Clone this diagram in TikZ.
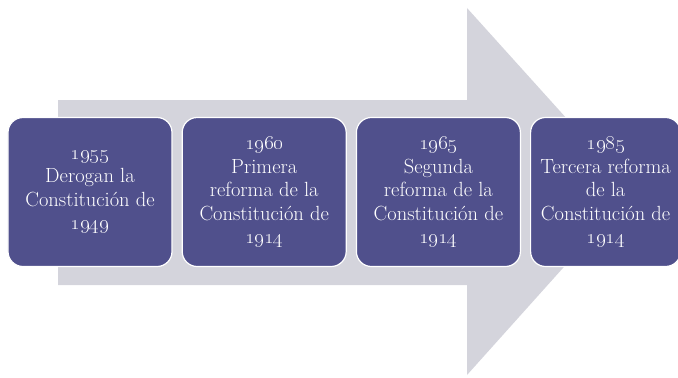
\documentclass[tikz,border=0pt]{standalone}
\usepackage{xcolor}
\usepackage{tikz}
\usetikzlibrary{positioning}
\definecolor{arrowgray}{HTML}{D4D4DC}
\definecolor{boxblue}{HTML}{50508C}

\begin{document}
\begin{tikzpicture}[x=1bp, y=1bp,
    yearbox/.style={rectangle, draw=white, line width=1.2bp, fill=boxblue, text=white,
                    rounded corners=15bp, minimum width=164bp, minimum height=149bp,
                    align=center, inner sep=0pt,
                    font=\fontsize{20.5bp}{23.5bp}\selectfont},
    node distance=9bp,
]
\useasboundingbox (0,0) rectangle (678,377);

% big arrow behind the boxes
\fill[arrowgray] (58,92) -- (58,277) -- (467,277) -- (467,369) -- (632,186)
                 -- (467,2) -- (467,92) -- cycle;

\node[yearbox] (y1955) at (90,185) {\oldstylenums{1955}\\Derogan la\\Constitución de\\\oldstylenums{1949}};
\node[yearbox,right=of y1955] (y1960) {\oldstylenums{1960}\\Primera\\reforma de la\\Constitución de\\\oldstylenums{1914}};
\node[yearbox,right=of y1960] (y1965) {\oldstylenums{1965}\\Segunda\\reforma de la\\Constitución de\\\oldstylenums{1914}};
\node[yearbox,right=of y1965,minimum width=150bp] (y1985) {\oldstylenums{1985}\\Tercera reforma\\de la\\Constitución de\\\oldstylenums{1914}};

\end{tikzpicture}
\end{document}
